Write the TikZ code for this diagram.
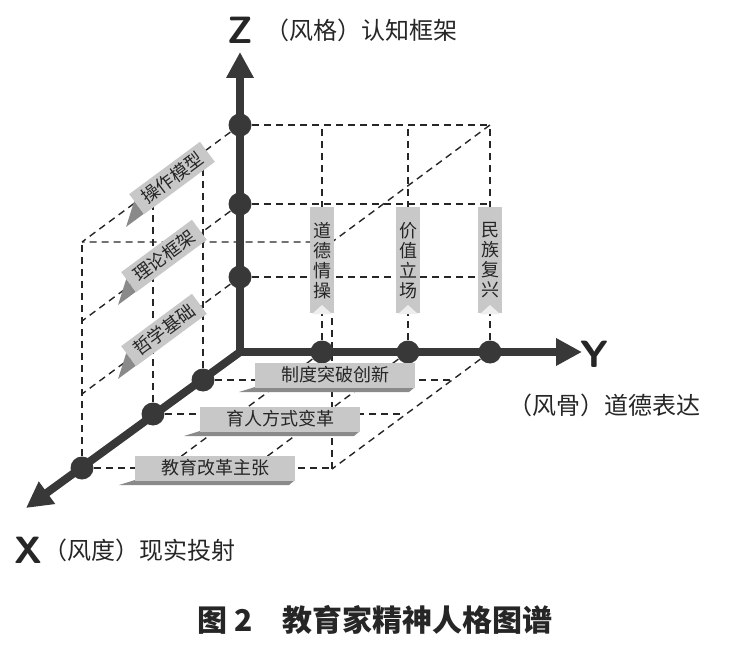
\documentclass[tikz,border=0pt]{standalone}
\usepackage{fontspec}
\setmainfont{Noto Sans CJK SC}
\usetikzlibrary{arrows.meta}
\definecolor{ax}{HTML}{383838}
\definecolor{lg}{HTML}{C8C8C8}
\definecolor{dg}{HTML}{8A8A8A}
\tikzset{
  axis/.style={line width=8pt,ax,-{Triangle[length=26pt,width=26pt]}},
  grid/.style={dashed,line width=1.4pt,black!85,dash pattern=on 7pt off 5pt},
  dot/.style={circle,fill=ax,inner sep=0pt,minimum size=23pt},
  lbl/.style={fill=lg,font=\fontsize{18}{19}\selectfont,inner sep=2pt,text=black!85},
  vlbl/.style={fill=lg,font=\fontsize{18}{20}\selectfont,align=center,inner sep=3pt,text width=18pt,text=black!85},
  axl/.style={font=\fontsize{24}{26}\selectfont,text=black!85},
  big/.style={font=\sffamily\bfseries\fontsize{38}{38}\selectfont,text=black!85},
}
\begin{document}
\begin{tikzpicture}[x=1pt,y=-1pt]
\useasboundingbox (0,0) rectangle (750,650);
\coordinate (O) at (240,352);
\coordinate (z1) at (240,277); \coordinate (z2) at (240,204); \coordinate (z3) at (240,125);
\coordinate (y1) at (322,352); \coordinate (y2) at (408,352); \coordinate (y3) at (490,352);
\coordinate (x1) at (203,380); \coordinate (x2) at (153,414); \coordinate (x3) at (82,468);
% back plane grid
\foreach \z in {z1,z2,z3} \draw[grid] (\z) -- ++(250,0);
\foreach \y in {y1,y2,y3} \draw[grid] (\y) -- ++(0,-227);
% left plane
\foreach \z in {z1,z2,z3} \draw[grid] (\z) -- ++(-158,117);
\foreach \x in {x1,x2,x3} \draw[grid] (\x) -- ++(0,-227);
% bottom plane
\foreach \x in {x1,x2,x3} \draw[grid] (\x) -- ++(250,0);
\foreach \y in {y1,y2,y3} \draw[grid] (\y) -- ++(-158,117);
% top and front edges
\draw[grid] (z3) ++(250,0) -- ++(-158,117) -- ++(-250,0);
\draw[grid] (y3) ++(-158,117) -- ++(0,-227);
% axes
\draw[axis] (O) -- (240,52);
\draw[axis] (O) -- (582,352);
\draw[axis] (O) -- (26,508);
\foreach \p in {z1,z2,z3,y1,y2,y3,x1,x2,x3} \node[dot] at (\p) {};
% vertical labels
\foreach \x/\t in {322/道\\德\\情\\操, 408/价\\值\\立\\场, 490/民\\族\\复\\兴}{
  \node[vlbl,anchor=north,minimum height=106pt] (v\x) at (\x,207) {\t};
  \fill[white!70!lg] (\x-10,314) -- (\x,305) -- (\x+10,314) -- cycle;
}
% rotated labels
\foreach \cx/\cy/\t in {172/178/操作模型, 164/256/理论框架, 164/330/哲学基础}{
  \begin{scope}[shift={(\cx,\cy)},rotate=36.5,transform shape]
    \fill[dg] (-66,12) -- (-44,12) -- (-44,-4) -- cycle;
    \node[lbl,minimum width=88pt,minimum height=25pt] (r\cx\cy) at (0,0) {\t};
  \end{scope}
}
% horizontal labels
\foreach \x/\y/\w/\t in {335/375/160/制度突破创新, 280/419/160/育人方式变革, 215/468/160/教育改革主张}{
  \fill[dg] (\x-\w/2,\y+12) -- (\x+\w/2,\y+12) -- (\x+\w/2-6,\y+17) -- (\x-\w/2-16,\y+17) -- cycle;
  \node[lbl,minimum width=\w pt,minimum height=25pt] (h\x) at (\x,\y) {\t};
}
% axis labels
\node[big] (Z) at (240,30) {Z};
\node[axl,anchor=west] (Zl) at (262,30) {（风格）认知框架};
\node[big] (Y) at (594,354) {Y};
\node[axl,anchor=west] (Yl) at (505,405) {（风骨）道德表达};
\node[big] (X) at (28,550) {X};
\node[axl,anchor=west] (Xl) at (40,550) {（风度）现实投射};
\node[font=\bfseries\fontsize{30}{32}\selectfont,text=black!85] (cap) at (375,620) {图 2\quad 教育家精神人格图谱};
\end{tikzpicture}
\end{document}
